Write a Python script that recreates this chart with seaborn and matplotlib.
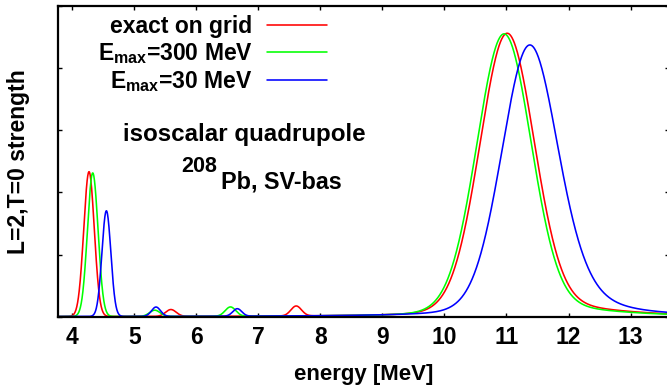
import numpy as np
import pandas as pd
import matplotlib
matplotlib.use("Agg")
import matplotlib.pyplot as plt
import seaborn as sns

# ---------------- data ----------------
series_names = ["exact on grid", r"$\mathrm{E_{max}}$=300 MeV", r"$\mathrm{E_{max}}$=30 MeV"]
series_colors = ["#ff0000", "#00ff00", "#0000ff"]

# low-lying discrete states: centre [MeV], peak height
exact_centres = [4.27, 5.59, 7.61]
exact_heights = [2.33, 0.11, 0.16]
e300_centres = [4.33, 5.33, 6.55]
e300_heights = [2.31, 0.10, 0.15]
e30_centres = [4.55, 5.35, 6.66]
e30_heights = [1.70, 0.15, 0.12]
state_sigma = [0.085, 0.085, 0.072]          # Gaussian sigma per series [MeV]

# giant resonance: centre, height, FWHM, Lorentz fraction
exact_gr = [11.01, 4.52, 1.04, 0.08]
e300_gr = [10.96, 4.52, 1.04, 0.08]
e30_gr = [11.37, 4.27, 1.06, 0.10]

# high-energy tail: centre, height, half width
exact_tail = [12.2, 0.10, 1.0]
e300_tail = [12.2, 0.08, 1.0]
e30_tail = [12.2, 0.27, 0.65]

x_ticks = [4, 5, 6, 7, 8, 9, 10, 11, 12, 13]
y_ticks = [0, 1, 2, 3, 4, 5]


def strength(e, centres, heights, sigma, gr, tail):
    s = np.zeros_like(e)
    for c, h in zip(centres, heights):
        s += h * np.exp(-0.5 * ((e - c) / sigma) ** 2)
    c, h, f, eta = gr
    d2 = (e - c) ** 2
    s += h * ((1 - eta) * np.exp(-4 * np.log(2) * d2 / f ** 2) + eta / (1 + 4 * d2 / f ** 2))
    c, h, g = tail
    s += h * g ** 2 / ((e - c) ** 2 + g ** 2)
    return s


energy = np.linspace(3.77, 13.62, 3000)
params = [
    (exact_centres, exact_heights, state_sigma[0], exact_gr, exact_tail),
    (e300_centres, e300_heights, state_sigma[1], e300_gr, e300_tail),
    (e30_centres, e30_heights, state_sigma[2], e30_gr, e30_tail),
]
frames = []
for name, p in zip(series_names, params):
    frames.append(pd.DataFrame({"energy": energy,
                                "strength": strength(energy, *p),
                                "series": name}))
df = pd.concat(frames, ignore_index=True)

# ---------------- style ----------------
sns.set_theme(style="ticks")
plt.rcParams["font.family"] = ["Liberation Sans", "DejaVu Sans"]
plt.rcParams["font.weight"] = "bold"
plt.rcParams["axes.labelweight"] = "bold"
plt.rcParams["text.color"] = "black"
plt.rcParams["axes.labelcolor"] = "black"
plt.rcParams["xtick.color"] = "black"
plt.rcParams["ytick.color"] = "black"
plt.rcParams["axes.edgecolor"] = "black"
plt.rcParams["mathtext.fontset"] = "custom"
plt.rcParams["mathtext.rm"] = "Liberation Sans:bold"
plt.rcParams["mathtext.bf"] = "Liberation Sans:bold"
plt.rcParams["mathtext.it"] = "Liberation Sans:bold"

FS = 16.5
W, H = 667, 387
fig = plt.figure(figsize=(W / 100, H / 100), dpi=100)
left_px, right_px, top_px, bot_px = 58, 669, 6, 316.7
ax = fig.add_axes([left_px / W, 1 - bot_px / H, (right_px - left_px) / W, (bot_px - top_px) / H])

sns.lineplot(data=df, x="energy", y="strength", hue="series", hue_order=series_names,
             palette=series_colors, linewidth=1.15, estimator=None, sort=False, ax=ax)

ax.set_xlim(3.77, 13.62)
ax.set_ylim(0, 5)
ax.set_xticks(x_ticks)
ax.set_xticklabels([str(t) for t in x_ticks], fontsize=FS, fontweight="bold", color="black")
ax.set_yticks(y_ticks)
ax.set_yticklabels([])
ax.tick_params(direction="in", length=3, width=1.0, top=True, right=True, pad=7, colors="black")
for sp in ax.spines.values():
    sp.set_visible(True)
    sp.set_linewidth(1.6)
    sp.set_color("black")

ax.set_xlabel("energy [MeV]", fontsize=16, fontweight="bold", va="top", color="black")
ax.xaxis.set_label_coords(0.5, -0.151)
ax.set_ylabel("L=2,T=0 strength", fontsize=FS, fontweight="bold", color="black")
ax.yaxis.set_label_coords(-0.046, 0.5)

handles, labels = ax.get_legend_handles_labels()
leg = ax.legend(handles, labels, loc="upper right", bbox_to_anchor=(0.4403, 0.9715),
                frameon=False, markerfirst=False, handlelength=2.6, handletextpad=0.65,
                labelspacing=0.135, borderpad=0, borderaxespad=0,
                prop={"weight": "bold", "size": FS})
for t in leg.get_texts():
    t.set_color("black")

ax.text(0.1064, 0.5665, "isoscalar quadrupole", transform=ax.transAxes,
        fontsize=17.4, fontweight="bold", va="baseline", ha="left", color="black")
ax.text(0.2013, 0.4667, "208", transform=ax.transAxes,
        fontsize=15.5, fontweight="bold", va="baseline", ha="left", color="black")
ax.text(0.2663, 0.413, "Pb, SV-bas", transform=ax.transAxes,
        fontsize=16.8, fontweight="bold", va="baseline", ha="left", color="black")

fig.savefig("out.png", dpi=100)
